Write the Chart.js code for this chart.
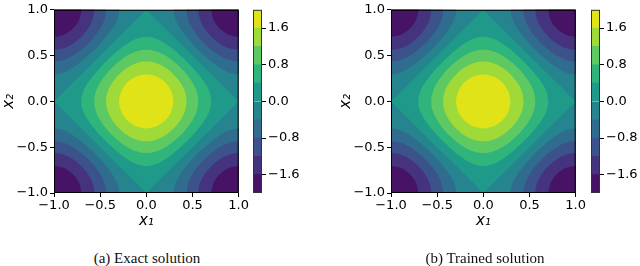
<!DOCTYPE html>
<html>
<head>
<meta charset="utf-8">
<script src="https://cdn.jsdelivr.net/npm/chart.js@4.4.0/dist/chart.umd.min.js"></script>
<style>
  body { margin: 0; background: #fff; width: 640px; height: 266px; position: relative; overflow: hidden; }
  canvas { position: absolute; top: 0; }
  .cap { position: absolute; top: 251px; width: 200px; text-align: center; line-height: 15px;
         font-family: "Liberation Serif", "DejaVu Serif", serif; font-size: 15px; color: #111; }
</style>
</head>
<body>
<canvas id="mainA" width="250" height="230" style="left:0px"></canvas>
<canvas id="barA" width="60" height="230" style="left:245px"></canvas>
<canvas id="mainB" width="250" height="230" style="left:337px"></canvas>
<canvas id="barB" width="60" height="230" style="left:583px"></canvas>
<div class="cap" style="left:47px">(a) Exact solution</div>
<div class="cap" style="left:385px">(b) Trained solution</div>
<script>
const axisTicks = [-1.0, -0.5, 0.0, 0.5, 1.0];
const barTicks = [-1.6, -0.8, 0.0, 0.8, 1.6];
const levels = [-2.0, -1.6, -1.2, -0.8, -0.4, 0.0, 0.4, 0.8, 1.2, 1.6, 2.0];
const bandColors = ['#471365', '#46337f', '#3b528b', '#2f6c8e', '#25848e',
                    '#1f9a8a', '#2fb47c', '#5ec962', '#a0da39', '#dfe318'];

// contour lines, first quadrant, from the x1 axis to the x2 axis
const lvl00 = [[1, 0], [0, 1]];
const lvl04 = [[0.705, 0], [0.686, 0.1], [0.634, 0.2], [0.56, 0.3], [0.471, 0.4], [0.436, 0.436],
               [0.4, 0.471], [0.3, 0.56], [0.2, 0.634], [0.1, 0.686], [0, 0.705]];
const lvl08 = [[0.564, 0], [0.548, 0.1], [0.503, 0.2], [0.432, 0.3], [0.369, 0.369],
               [0.3, 0.432], [0.2, 0.503], [0.1, 0.548], [0, 0.564]];
const lvl12 = [[0.436, 0], [0.42, 0.1], [0.372, 0.2], [0.295, 0.295], [0.2, 0.372], [0.1, 0.42], [0, 0.436]];
const lvl16 = [[0.295, 0], [0.275, 0.1], [0.249, 0.15], [0.205, 0.205], [0.15, 0.249], [0.1, 0.275], [0, 0.295]];

// contour lines round the corner (1, 1), from the top edge to the right edge
const lvlN04 = [[0.295, 1], [0.314, 0.9], [0.366, 0.8], [0.44, 0.7], [0.529, 0.6], [0.564, 0.564],
                [0.6, 0.529], [0.7, 0.44], [0.8, 0.366], [0.9, 0.314], [1, 0.295]];
const lvlN08 = [[0.436, 1], [0.452, 0.9], [0.497, 0.8], [0.568, 0.7], [0.631, 0.631],
                [0.7, 0.568], [0.8, 0.497], [0.9, 0.452], [1, 0.436]];
const lvlN12 = [[0.564, 1], [0.58, 0.9], [0.628, 0.8], [0.705, 0.705], [0.8, 0.628], [0.9, 0.58], [1, 0.564]];
const lvlN16 = [[0.705, 1], [0.725, 0.9], [0.751, 0.85], [0.795, 0.795], [0.85, 0.751], [0.9, 0.725], [1, 0.705]];

const tickFont = { family: 'DejaVu Sans', size: 13 };
const titleFont = { family: 'DejaVu Sans', size: 15, style: 'italic' };

function fmt(v) {
  return (v < 0 ? '\u2212' : '') + Math.abs(v).toFixed(1);
}

// closed curve round the centre, mirrored from the first quadrant
function ring(q) {
  const pts = [];
  const rev = q.slice().reverse();
  q.forEach(([x, y]) => pts.push({ x: x, y: y }));
  rev.slice(1).forEach(([x, y]) => pts.push({ x: -x, y: y }));
  q.slice(1).forEach(([x, y]) => pts.push({ x: -x, y: -y }));
  rev.slice(1).forEach(([x, y]) => pts.push({ x: x, y: -y }));
  return pts;
}

// corner blob, closed outside the plot so only the curve shows
function corner(q, sx, sy) {
  const pts = [{ x: 1.25 * sx, y: 1.25 * sy }, { x: q[0][0] * sx, y: 1.25 * sy }];
  q.forEach(([x, y]) => pts.push({ x: x * sx, y: y * sy }));
  pts.push({ x: 1.25 * sx, y: q[q.length - 1][1] * sy });
  return pts;
}

function contourLayers() {
  const layers = [];
  layers.push({ pts: [{ x: -1.3, y: -1.3 }, { x: 1.3, y: -1.3 }, { x: 1.3, y: 1.3 }, { x: -1.3, y: 1.3 }], c: 4, t: 0 });
  [[lvlN04, 3], [lvlN08, 2], [lvlN12, 1], [lvlN16, 0]].forEach(([q, c]) => {
    [[1, 1], [-1, 1], [-1, -1], [1, -1]].forEach(([sx, sy]) => {
      layers.push({ pts: corner(q, sx, sy), c: c, t: 0.4 });
    });
  });
  layers.push({ pts: ring(lvl00), c: 5, t: 0 });
  [[lvl04, 6], [lvl08, 7], [lvl12, 8], [lvl16, 9]].forEach(([q, c]) => {
    layers.push({ pts: ring(q), c: c, t: 0.4 });
  });
  return layers.map((l, i) => ({
    data: l.pts,
    backgroundColor: bandColors[l.c],
    fill: 'shape',
    tension: l.t,
    borderWidth: 0,
    pointRadius: 0,
    order: layers.length - i
  }));
}

const frame = {
  id: 'frame',
  afterDatasetsDraw(chart, args, opts) {
    const a = chart.chartArea;
    const ctx = chart.ctx;
    ctx.save();
    ctx.strokeStyle = opts.color;
    ctx.lineWidth = 1;
    ctx.strokeRect(a.left + 0.5, a.top + 0.5, a.right - a.left - 1, a.bottom - a.top - 1);
    ctx.restore();
  }
};

function drawPanel(id, padRight) {
  new Chart(document.getElementById(id), {
    type: 'line',
    data: { datasets: contourLayers() },
    options: {
      responsive: false,
      animation: false,
      layout: { padding: { top: 6, right: padRight, left: 0, bottom: 0 } },
      elements: { line: { capBezierPoints: false } },
      scales: {
        x: {
          type: 'linear', min: -1, max: 1,
          afterBuildTicks: s => { s.ticks = axisTicks.map(v => ({ value: v })); },
          afterFit: s => { s.height = 37; },
          ticks: { font: tickFont, color: '#000', padding: 1, maxRotation: 0, autoSkip: false, callback: fmt },
          grid: { drawOnChartArea: false, tickLength: 4, tickColor: '#000', tickWidth: 1 },
          border: { display: false },
          title: { display: true, text: 'x\u2081', font: titleFont, color: '#000', padding: 0 }
        },
        y: {
          type: 'linear', min: -1, max: 1,
          afterBuildTicks: s => { s.ticks = axisTicks.map(v => ({ value: v })); },
          afterFit: s => { s.width = 54; },
          ticks: { font: tickFont, color: '#000', padding: 2, autoSkip: false, callback: fmt },
          grid: { drawOnChartArea: false, tickLength: 4, tickColor: '#000', tickWidth: 1 },
          border: { display: false },
          title: { display: true, text: 'x\u2082', font: titleFont, color: '#000', padding: 0 }
        }
      },
      plugins: { legend: { display: false }, tooltip: { enabled: false }, frame: { color: '#000' } }
    },
    plugins: [frame]
  });
}

function drawColorbar(id) {
  new Chart(document.getElementById(id), {
    type: 'bar',
    data: {
      labels: [''],
      datasets: bandColors.map((c, i) => ({
        data: [[levels[i], levels[i + 1]]],
        backgroundColor: c,
        barPercentage: 1,
        categoryPercentage: 1,
        grouped: false
      }))
    },
    options: {
      responsive: false,
      animation: false,
      layout: { padding: { left: 8, top: 6, right: 0, bottom: 37 } },
      scales: {
        x: { display: false },
        y: {
          position: 'right', min: -2, max: 2,
          afterBuildTicks: s => { s.ticks = barTicks.map(v => ({ value: v })); },
          afterFit: s => { s.width = 43; },
          ticks: { font: tickFont, color: '#000', padding: 2, autoSkip: false, callback: fmt },
          grid: { drawOnChartArea: false, tickLength: 4, tickColor: '#000', tickWidth: 1 },
          border: { display: false }
        }
      },
      plugins: { legend: { display: false }, tooltip: { enabled: false }, frame: { color: '#333' } }
    },
    plugins: [frame]
  });
}

drawPanel('mainA', 9);
drawColorbar('barA');
drawPanel('mainB', 8);
drawColorbar('barB');
</script>
</body>
</html>
